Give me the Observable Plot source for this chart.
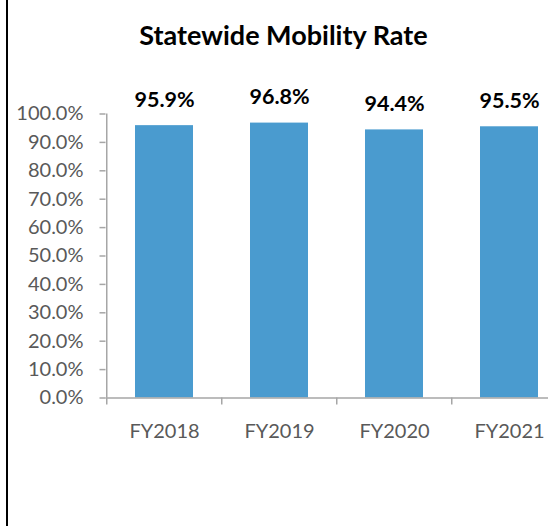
<!DOCTYPE html>
<html><head><meta charset="utf-8">
<script src="https://cdn.jsdelivr.net/npm/d3@7"></script>
<script src="https://cdn.jsdelivr.net/npm/@observablehq/plot@0.6"></script>
<style>
body{margin:0;background:#fff;}
#wrap{position:relative;width:548px;height:526px;overflow:hidden;background:#fff;}
#title{position:absolute;left:0;width:567px;top:18px;text-align:center;font-family:Lato;font-weight:bold;font-size:27px;line-height:normal;color:#000;z-index:2;}
#border{position:absolute;left:6px;top:0;width:2px;height:526px;background:#000;z-index:2;}
#wrap svg{position:absolute;left:0;top:0;}
</style></head><body>
<div id="wrap"><div id="border"></div><div id="title">Statewide Mobility Rate</div></div>
<script>
const categories = ["FY2018", "FY2019", "FY2020", "FY2021"];
const rates = [0.959, 0.968, 0.944, 0.955];
const yTicks = [0, 0.1, 0.2, 0.3, 0.4, 0.5, 0.6, 0.7, 0.8, 0.9, 1.0];

const data = categories.map((c, i) => ({year: c, rate: rates[i]}));
const x0 = 105.5, x1 = 567.5;
const step = (x1 - x0) / categories.length;
const axisGray = "#a6a6a6";
const textGray = "#595959";
const fmt = d3.format(".1%");

const chart = Plot.plot({
  width: 548,
  height: 526,
  marginTop: 113.5,
  marginBottom: 128.5,
  marginLeft: 105.5,
  marginRight: 0,
  style: {fontFamily: "Lato", background: "transparent"},
  x: {domain: categories, range: [x0, x1], paddingInner: 0.5, paddingOuter: 0.25, align: 0.5, axis: null},
  y: {domain: [0, 1], axis: null},
  marks: [
    Plot.barY(data, {x: "year", y: "rate", fill: "#4a9bcf"}),
    Plot.ruleX([categories[0]], {y1: 0, y2: 1, dx: -step / 2, stroke: axisGray, strokeWidth: 1.5}),
    Plot.ruleY([0], {stroke: axisGray, strokeWidth: 1.5}),
    Plot.axisY({ticks: yTicks, tickFormat: fmt, tickSize: 6, tickPadding: 16.5, stroke: axisGray, strokeWidth: 1.5, fill: textGray, fontSize: 20, label: null}),
    Plot.axisX({tickSize: 7, dx: -step / 2, stroke: axisGray, strokeWidth: 1.5, fill: "none", label: null}),
    Plot.axisX({tickSize: 0, tickPadding: 25.5, fill: textGray, fontSize: 20, label: null}),
    Plot.text(data, {x: "year", y: "rate", text: d => fmt(d.rate), dy: -26, fontWeight: "bold", fontSize: 21.5, fill: "#000"})
  ]
});
document.getElementById("wrap").appendChild(chart);
</script>
</body></html>
